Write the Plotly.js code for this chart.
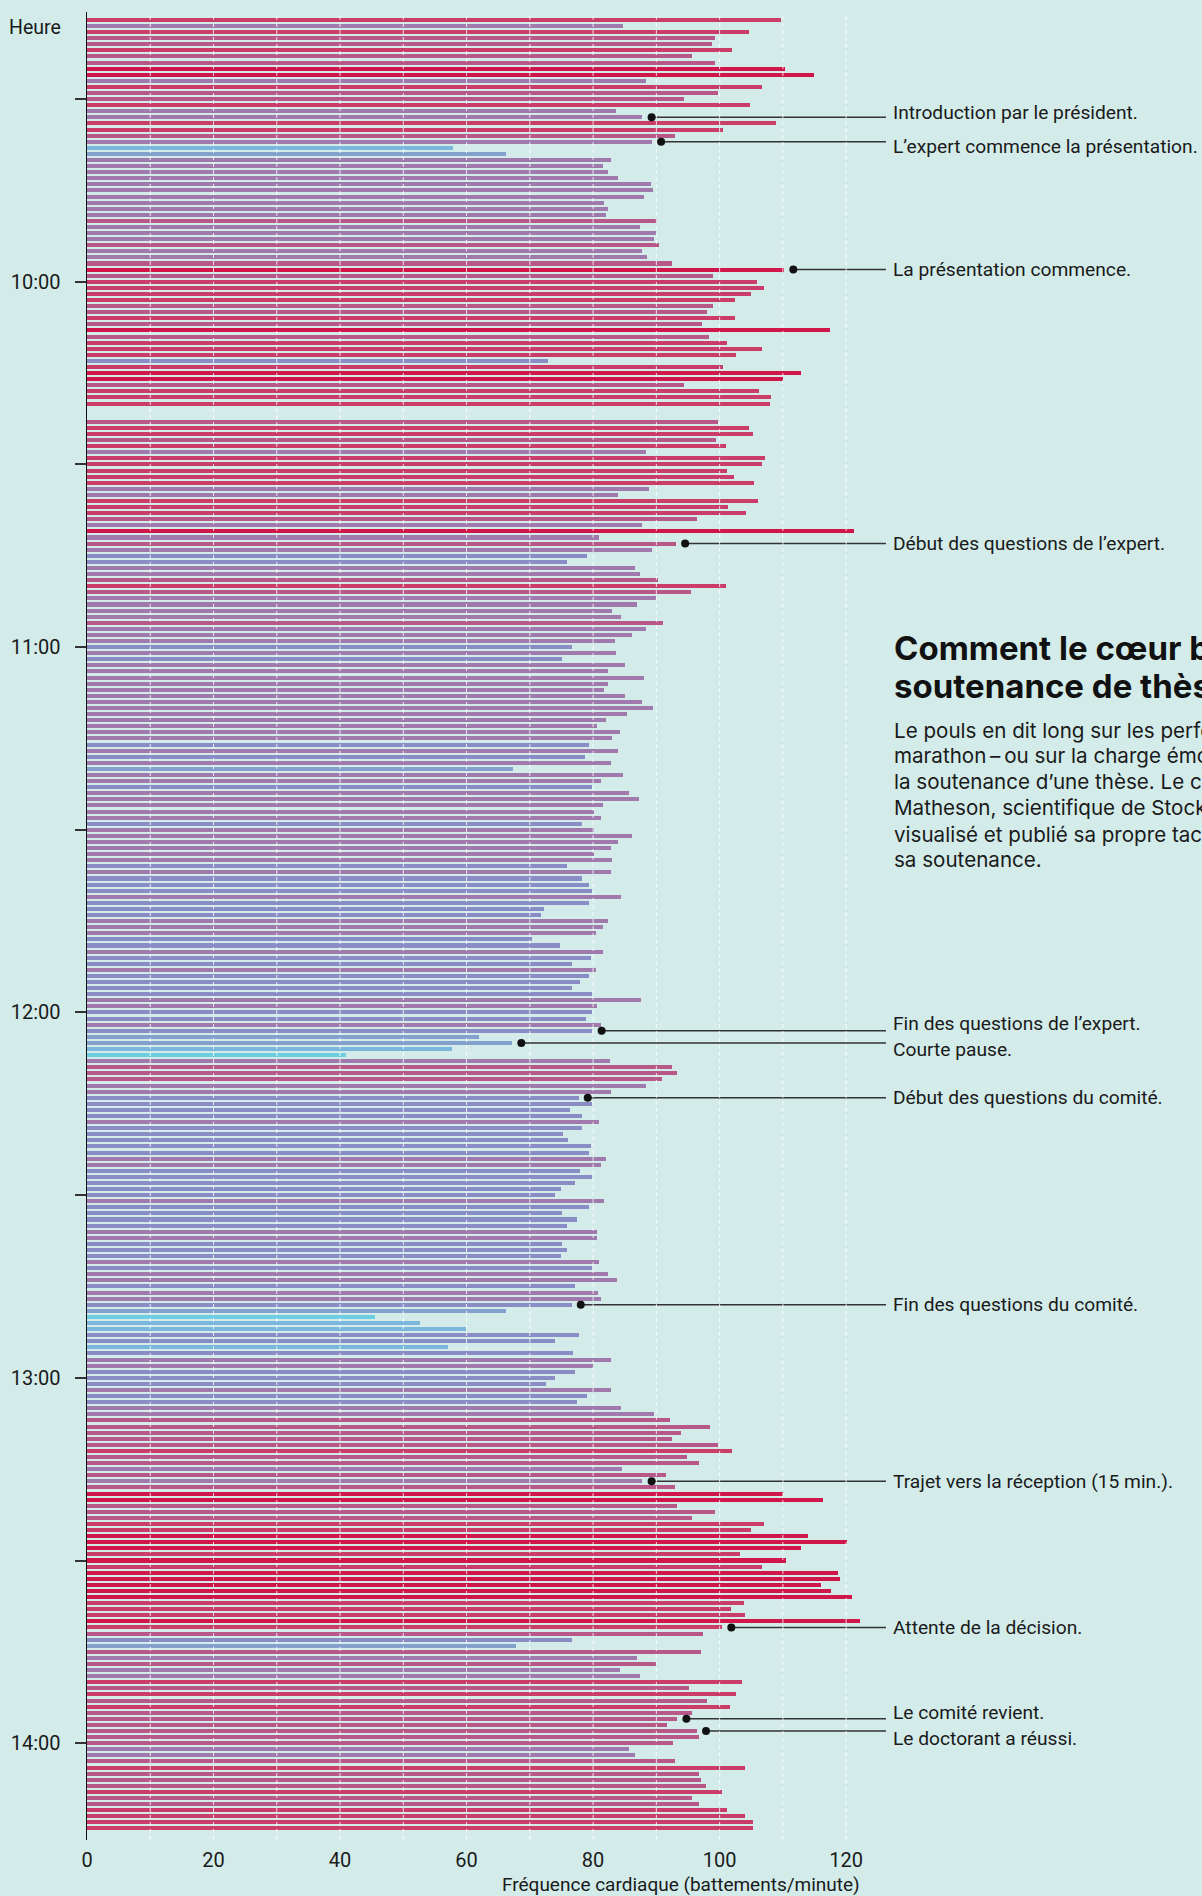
<!DOCTYPE html>
<html>
<head>
<meta charset="utf-8">
<script src="https://cdn.plot.ly/plotly-3.0.1.min.js"></script>
<style>
  html, body { margin: 0; padding: 0; background: #d3ecea; overflow: hidden; }
  #chart { width: 1202px; height: 1896px; }
</style>
</head>
<body>
<div id="chart"></div>
<script>
// ---- DATA ----
const times = [
  "09:17","09:18","09:19","09:20","09:21","09:22","09:23","09:24","09:25","09:26","09:27","09:28","09:29",
  "09:30","09:31","09:32","09:33","09:34","09:35","09:36","09:37","09:38","09:39","09:40","09:41","09:42","09:43","09:44","09:45","09:46","09:47","09:48","09:49",
  "09:50","09:51","09:52","09:53","09:54","09:55","09:56","09:57","09:58","09:59",
  "10:00","10:01","10:02","10:03","10:04","10:05","10:06","10:07","10:08","10:09",
  "10:10","10:11","10:12","10:13","10:14","10:15","10:16","10:17","10:18","10:19",
  "10:20","10:21","10:22","10:23","10:24","10:25","10:26","10:27","10:28","10:29",
  "10:30","10:31","10:32","10:33","10:34","10:35","10:36","10:37","10:38","10:39",
  "10:40","10:41","10:42","10:43","10:44","10:45","10:46","10:47","10:48","10:49",
  "10:50","10:51","10:52","10:53","10:54","10:55","10:56","10:57","10:58","10:59",
  "11:00","11:01","11:02","11:03","11:04","11:05","11:06","11:07","11:08","11:09",
  "11:10","11:11","11:12","11:13","11:14","11:15","11:16","11:17","11:18","11:19",
  "11:20","11:21","11:22","11:23","11:24","11:25","11:26","11:27","11:28","11:29",
  "11:30","11:31","11:32","11:33","11:34","11:35","11:36","11:37","11:38","11:39",
  "11:40","11:41","11:42","11:43","11:44","11:45","11:46","11:47","11:48","11:49",
  "11:50","11:51","11:52","11:53","11:54","11:55","11:56","11:57","11:58","11:59",
  "12:00","12:01","12:02","12:03","12:04","12:05","12:06","12:07","12:08","12:09",
  "12:10","12:11","12:12","12:13","12:14","12:15","12:16","12:17","12:18","12:19",
  "12:20","12:21","12:22","12:23","12:24","12:25","12:26","12:27","12:28","12:29",
  "12:30","12:31","12:32","12:33","12:34","12:35","12:36","12:37","12:38","12:39",
  "12:40","12:41","12:42","12:43","12:44","12:45","12:46","12:47","12:48","12:49",
  "12:50","12:51","12:52","12:53","12:54","12:55","12:56","12:57","12:58","12:59",
  "13:00","13:01","13:02","13:03","13:04","13:05","13:06","13:07","13:08","13:09",
  "13:10","13:11","13:12","13:13","13:14","13:15","13:16","13:17","13:18","13:19",
  "13:20","13:21","13:22","13:23","13:24","13:25","13:26","13:27","13:28","13:29",
  "13:30","13:31","13:32","13:33","13:34","13:35","13:36","13:37","13:38","13:39",
  "13:40","13:41","13:42","13:43","13:44","13:45","13:46","13:47","13:48","13:49",
  "13:50","13:51","13:52","13:53","13:54","13:55","13:56","13:57","13:58","13:59",
  "14:00","14:01","14:02","14:03","14:04","14:05","14:06","14:07","14:08","14:09",
  "14:10","14:11","14:12","14:13","14:14"
];

const bpm = [
  109.7,84.8,104.6,99.2,98.8,102.0,95.7,99.2,110.3,114.9,88.3,106.7,99.8,
  94.3,104.8,83.6,87.8,108.9,100.6,92.9,89.3,57.9,66.3,82.9,81.5,82.3,84.0,89.1,89.4,88.0,81.8,82.4,82.1,
  90.1,87.4,89.9,89.7,90.4,87.7,88.5,92.5,110.2,98.9,
  105.9,107.0,104.9,102.4,99.0,98.0,102.4,97.2,117.4,98.3,
  101.2,106.7,102.6,72.8,100.6,112.8,110.0,94.3,106.3,108.1,
  107.9,null,null,99.8,104.6,105.2,99.4,101.0,88.3,107.1,
  106.7,101.2,102.2,105.4,88.9,84.0,106.0,101.4,104.1,96.4,
  87.8,121.2,81.0,93.1,89.3,79.1,75.9,86.6,87.4,90.2,
  101.0,95.4,89.9,87.0,83.0,84.4,91.0,88.3,86.2,83.4,
  76.7,83.6,75.1,85.0,82.3,88.1,82.3,81.8,85.0,87.7,
  89.4,85.4,82.1,80.6,84.2,83.0,79.4,84.0,78.7,82.9,
  67.4,84.8,81.2,79.9,85.6,87.2,81.5,80.2,81.3,78.3,
  80.2,86.2,84.0,82.9,80.2,83.0,75.8,82.9,78.3,79.3,
  79.8,84.4,79.3,72.3,71.8,82.3,81.5,80.4,70.4,74.7,
  81.5,79.6,76.7,80.4,79.4,77.9,76.6,79.9,87.5,80.6,
  79.9,78.8,81.3,79.9,61.9,67.2,57.7,40.9,82.6,92.5,
  93.3,90.9,88.3,82.9,77.7,79.9,76.3,78.2,80.9,78.2,
  75.3,76.1,79.6,79.3,82.1,81.3,78.0,79.8,77.1,74.9,
  73.9,81.8,79.3,75.1,77.4,75.8,80.6,80.6,75.1,75.9,
  74.9,80.9,79.8,82.3,83.8,77.1,80.7,81.2,76.6,66.3,
  45.6,52.6,59.9,77.7,73.9,57.1,76.9,82.9,80.0,77.1,
  73.9,72.6,82.8,79.0,77.5,84.4,89.7,92.1,98.4,93.9,
  92.5,99.8,102.0,94.8,96.8,84.6,91.5,87.8,92.9,110.0,
  116.4,93.3,99.2,95.6,107.0,104.9,113.9,120.2,112.8,103.2,
  110.5,106.7,118.7,119.0,116.0,117.6,120.9,103.8,101.8,104.0,
  122.2,100.4,97.3,76.7,67.8,97.0,87.0,90.0,84.2,87.4,
  103.5,95.1,102.6,98.0,101.6,95.7,93.3,91.7,96.4,96.7,
  92.7,85.6,86.7,92.9,104.0,96.8,97.0,97.8,100.4,95.7,
  96.7,101.2,104.0,105.2,105.2
];

const eventTimes = ["09:33","09:37","09:58","10:43","12:03","12:05","12:14","12:48","13:17","13:41","13:56","13:58"];
const eventLabels = [
  "Introduction par le président.",
  "L’expert commence la présentation.",
  "La présentation commence.",
  "Début des questions de l’expert.",
  "Fin des questions de l’expert.",
  "Courte pause.",
  "Début des questions du comité.",
  "Fin des questions du comité.",
  "Trajet vers la réception (15 min.).",
  "Attente de la décision.",
  "Le comité revient.",
  "Le doctorant a réussi."
];

const hourTickTimes = ["09:30","10:00","10:30","11:00","11:30","12:00","12:30","13:00","13:30","14:00"];
const hourTickText  = ["","10:00","","11:00","","12:00","","13:00","","14:00"];
const bpmTickVals = [0,10,20,30,40,50,60,70,80,90,100,110,120];
const bpmTickText = ["0","","20","","40","","60","","80","","100","","120"];

const titleLines = ["Comment le cœur bat lors d’une", "soutenance de thèse"];
const bodyLines = [
  "Le pouls en dit long sur les performances d’un",
  "marathon\u2009–\u2009ou sur la charge émotionnelle de",
  "la soutenance d’une thèse. Le chercheur",
  "Matheson, scientifique de Stockholm, a",
  "visualisé et publié sa propre tachycardie pendant",
  "sa soutenance."
];

// ---- STYLE / LAYOUT ----
const BG = "#d3ecea";
const toMin = s => { const p = s.split(":"); return (+p[0]) * 60 + (+p[1]); };
const yMin = times.map(toMin);
const X_MAX = 126.3;
const Y_TOP = 555.7, Y_BOTTOM = 855.9;
const labelShift = [5, -5, 0, 0, 7, -7, 0, 0, 0, 0, 6, -7];
const DOT_GAP = 1.45;

const colorscale = [
  [0.0, "#6ecde0"], [0.2, "#6ecde0"],
  [0.2, "#7bb6dc"], [0.3, "#7bb6dc"],
  [0.3, "#84a0cc"], [0.4, "#84a0cc"],
  [0.4, "#8a8cc6"], [0.5, "#8a8cc6"],
  [0.5, "#a07aad"], [0.6, "#a07aad"],
  [0.6, "#b75888"], [0.7, "#b75888"],
  [0.7, "#c93d68"], [0.8, "#c93d68"],
  [0.8, "#d0164a"], [1.0, "#d0164a"]
];

const bars = {
  type: "bar", orientation: "h",
  x: bpm, y: yMin, width: 0.66,
  marker: { color: bpm, colorscale: colorscale, cmin: 30, cmax: 130, line: { width: 0 } },
  hoverinfo: "skip", showlegend: false
};

const evY = eventTimes.map(toMin);
const evX = evY.map(m => bpm[yMin.indexOf(m)] + DOT_GAP);

const leaderX = [], leaderY = [];
evY.forEach((m, i) => { leaderX.push(evX[i], X_MAX, null); leaderY.push(m, m, null); });
const leaders = {
  type: "scatter", mode: "lines", x: leaderX, y: leaderY,
  line: { color: "#333333", width: 1.5 }, hoverinfo: "skip", showlegend: false, cliponaxis: false
};
const dots = {
  type: "scatter", mode: "markers", x: evX, y: evY,
  marker: { color: "#111111", size: 8 }, hoverinfo: "skip", showlegend: false, cliponaxis: false
};

const annotations = [];
eventLabels.forEach((t, i) => annotations.push({
  text: t, xref: "paper", x: 1, xanchor: "left", xshift: 5,
  yref: "y", y: evY[i], yanchor: "middle", yshift: labelShift[i],
  showarrow: false, font: { family: "Roboto, sans-serif", size: 19.2, color: "#1a1a1a" }
}));
// Title block
const plotH = 1896 - 12 - 56;
const titleCenters = [648, 686];
const bodyCenters = [730.4, 755.8, 782.0, 807.8, 834.0, 859.8];
titleLines.forEach((t, i) => annotations.push({
  text: t, xref: "paper", x: 1, xanchor: "left", xshift: 5.5,
  yref: "paper", y: (1840 - titleCenters[i]) / plotH, yanchor: "middle",
  showarrow: false, font: { family: "Inter, sans-serif", size: 33, color: "#111111", weight: 700 }
}));
bodyLines.forEach((t, i) => annotations.push({
  text: t, xref: "paper", x: 1, xanchor: "left", xshift: 5.5,
  yref: "paper", y: (1840 - bodyCenters[i]) / plotH, yanchor: "middle",
  showarrow: false, font: { family: "Inter, sans-serif", size: 20.6, color: "#1a1a1a" }
}));
annotations.push({
  text: "Heure", xref: "paper", x: 0, xanchor: "right", xshift: -24,
  yref: "paper", y: 1, yanchor: "middle", yshift: -15.5,
  showarrow: false, font: { family: "Roboto, sans-serif", size: 19.5, color: "#1a1a1a" }
});
annotations.push({
  text: "Fréquence cardiaque (battements/minute)", xref: "paper", x: (862 - 87) / 799, xanchor: "right",
  yref: "paper", y: 0, yanchor: "middle", yshift: -44,
  showarrow: false, font: { family: "Roboto, sans-serif", size: 19, color: "#1a1a1a" }
});

const shapes = bpmTickVals.filter(v => v > 0).map(v => ({
  type: "line", xref: "x", x0: v, x1: v, yref: "paper", y0: 0, y1: 1, layer: "above",
  line: { color: "rgba(255,255,255,0.8)", width: 1, dash: "4px,3px" }
}));

const layout = {
  width: 1202, height: 1896,
  margin: { l: 87, r: 316, t: 12, b: 56 },
  paper_bgcolor: BG, plot_bgcolor: BG,
  bargap: 0,
  font: { family: "Roboto, sans-serif", color: "#1a1a1a" },
  xaxis: {
    range: [0, X_MAX], tickvals: bpmTickVals, ticktext: bpmTickText,
    showgrid: false, zeroline: false, showline: false, ticks: "",
    tickfont: { size: 20, color: "#1a1a1a" }, ticklabelstandoff: 6, fixedrange: true
  },
  yaxis: {
    range: [Y_BOTTOM, Y_TOP], tickvals: hourTickTimes.map(toMin), ticktext: hourTickText,
    showgrid: false, zeroline: false, showline: true, linecolor: "#111111", linewidth: 1.5,
    ticks: "outside", ticklen: 11, tickwidth: 2, tickcolor: "#333333",
    tickfont: { size: 20, color: "#1a1a1a" }, ticklabelstandoff: 10, fixedrange: true
  },
  annotations: annotations,
  shapes: shapes,
  hovermode: false
};

Plotly.newPlot("chart", [bars, leaders, dots], layout, { displayModeBar: false, staticPlot: true });
</script>
</body>
</html>
